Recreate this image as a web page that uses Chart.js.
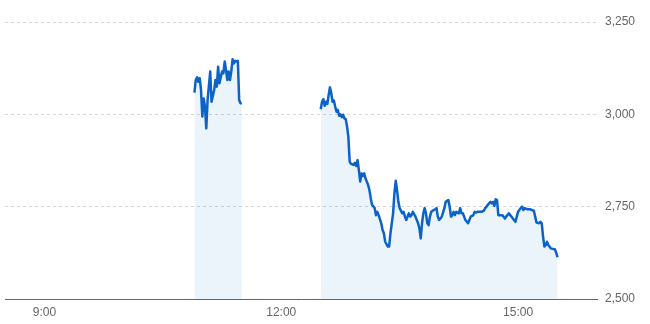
<!DOCTYPE html>
<html>
<head>
<meta charset="utf-8">
<script src="https://cdn.jsdelivr.net/npm/chart.js@4/dist/chart.umd.min.js"></script>
<style>
  html, body { margin: 0; padding: 0; background: #fff; }
  #wrap { width: 650px; height: 324px; }
</style>
</head>
<body>
<div id="wrap"><canvas id="priceChart" width="650" height="324"></canvas></div>
<script>
// morning session (first trade 10:54)
const amTimes = ['10:54','10:55','10:56','10:57','10:58','10:59','11:00','11:01','11:02','11:03',
  '11:04','11:06','11:07','11:09','11:10','11:11','11:12','11:13','11:15','11:16',
  '11:17','11:18','11:19','11:20','11:21','11:22','11:23','11:24','11:25','11:26',
  '11:27','11:28','11:29','11:30'];
const amPrices = [3059,3093,3100,3088,3098,3066,2994,3043,3021,2962,
  3039,3116,3034,3066,3093,3075,3129,3084,3116,3111,
  3143,3120,3093,3116,3093,3116,3149,3138,3145,3143,
  3145,3039,3030,3030];

// afternoon session
const pmTimes = ['12:30','12:31','12:32','12:33','12:34','12:35','12:36','12:37','12:38','12:39',
  '12:40','12:41','12:42','12:43','12:44','12:45','12:46','12:47','12:48','12:49',
  '12:50','12:51','12:52','12:53','12:55','12:56','12:57','12:58','12:59','13:00',
  '13:01','13:02','13:03','13:04','13:06','13:07','13:08','13:09','13:11','13:12',
  '13:13','13:14','13:16','13:17','13:18','13:19','13:21','13:22','13:23','13:25',
  '13:26','13:27','13:28','13:29','13:30','13:32','13:33','13:34','13:35','13:37',
  '13:38','13:39','13:40','13:42','13:43','13:44','13:45','13:46','13:47','13:48',
  '13:49','13:50','13:51','13:52','13:53','13:54','13:56','13:57','13:58','13:59',
  '14:00','14:01','14:02','14:04','14:05','14:07','14:08','14:09','14:10','14:11',
  '14:12','14:13','14:15','14:16','14:17','14:18','14:19','14:20','14:22','14:23',
  '14:24','14:26','14:27','14:28','14:29','14:31','14:32','14:34','14:35','14:36',
  '14:37','14:39','14:40','14:41','14:42','14:43','14:44','14:45','14:46','14:48',
  '14:49','14:50','14:51','14:53','14:54','14:55','14:56','14:58','14:59','15:00',
  '15:02','15:03','15:04','15:05','15:07','15:09','15:12','15:13','15:14','15:16',
  '15:17','15:18','15:19','15:20','15:21','15:22','15:23','15:25','15:27','15:28',
  '15:29','15:30'];
const pmPrices = [3014,3034,3041,3023,3034,3028,3052,3073,3057,3034,
  3037,3021,3007,3012,2996,3000,2992,2999,2989,2987,
  2967,2939,2872,2866,2863,2869,2860,2876,2849,2818,
  2840,2833,2840,2827,2809,2795,2773,2755,2746,2727,
  2736,2727,2705,2687,2678,2655,2642,2642,2678,2732,
  2786,2820,2795,2763,2746,2732,2736,2723,2714,2732,
  2723,2727,2736,2723,2714,2705,2691,2664,2705,2732,
  2746,2732,2705,2700,2723,2736,2741,2743,2746,2723,
  2714,2718,2723,2746,2763,2768,2750,2723,2727,2736,
  2727,2736,2732,2746,2732,2732,2723,2714,2705,2714,
  2723,2727,2736,2734,2736,2736,2736,2739,2746,2750,
  2755,2763,2759,2763,2752,2770,2768,2727,2727,2727,
  2723,2718,2723,2732,2727,2723,2718,2709,2723,2736,
  2746,2750,2741,2746,2743,2743,2739,2723,2707,2705,
  2709,2705,2669,2642,2646,2655,2646,2637,2635,2635,
  2625,2613];

const xRange = ['8:30', '16:00'];
const xTicks = ['9:00', '12:00', '15:00'];
const yTicks = [2500, 2750, 3000, 3250];

const toMin = t => { const [h, m] = t.split(':').map(Number); return h * 60 + m; };
const fmtTime = v => Math.floor(v / 60) + ':' + String(v % 60).padStart(2, '0');
const toPoints = (times, prices) => times.map((t, i) => ({ x: toMin(t), y: prices[i] }));

const lineColor = '#0b63c7';
const fillColor = 'rgba(30, 120, 215, 0.09)';
const labelColor = '#666';

function seriesStyle(points) {
  return {
    data: points,
    borderColor: lineColor,
    borderWidth: 2.5,
    borderJoinStyle: 'round',
    backgroundColor: fillColor,
    fill: 'start',
    pointRadius: 0,
    tension: 0
  };
}

new Chart(document.getElementById('priceChart'), {
  type: 'line',
  data: {
    datasets: [
      seriesStyle(toPoints(amTimes, amPrices)),
      seriesStyle(toPoints(pmTimes, pmPrices))
    ]
  },
  options: {
    responsive: false,
    animation: false,
    layout: { padding: { left: 5, top: 22, right: 0, bottom: 0 } },
    plugins: { legend: { display: false }, tooltip: { enabled: false } },
    scales: {
      x: {
        type: 'linear',
        min: toMin(xRange[0]),
        max: toMin(xRange[1]),
        afterBuildTicks: s => { s.ticks = xTicks.map(t => ({ value: toMin(t) })); },
        afterFit: s => { s.height = 25; },
        grid: { display: false, drawTicks: false },
        border: { display: true, color: '#666', width: 1 },
        ticks: {
          padding: 6,
          color: labelColor,
          font: { family: 'Liberation Sans, Arial, sans-serif', size: 12 },
          maxRotation: 0,
          callback: v => fmtTime(v)
        }
      },
      y: {
        position: 'right',
        min: yTicks[0],
        max: yTicks[yTicks.length - 1],
        afterBuildTicks: s => { s.ticks = yTicks.map(v => ({ value: v })); },
        afterFit: s => { s.width = 53; },
        grid: { color: '#d6d6d6', lineWidth: 1, drawTicks: false },
        border: { display: false, dash: [3, 3] },
        ticks: {
          padding: 8,
          color: labelColor,
          font: { family: 'Liberation Sans, Arial, sans-serif', size: 12 },
          callback: v => v.toLocaleString('en-US')
        }
      }
    }
  }
});
</script>
</body>
</html>
